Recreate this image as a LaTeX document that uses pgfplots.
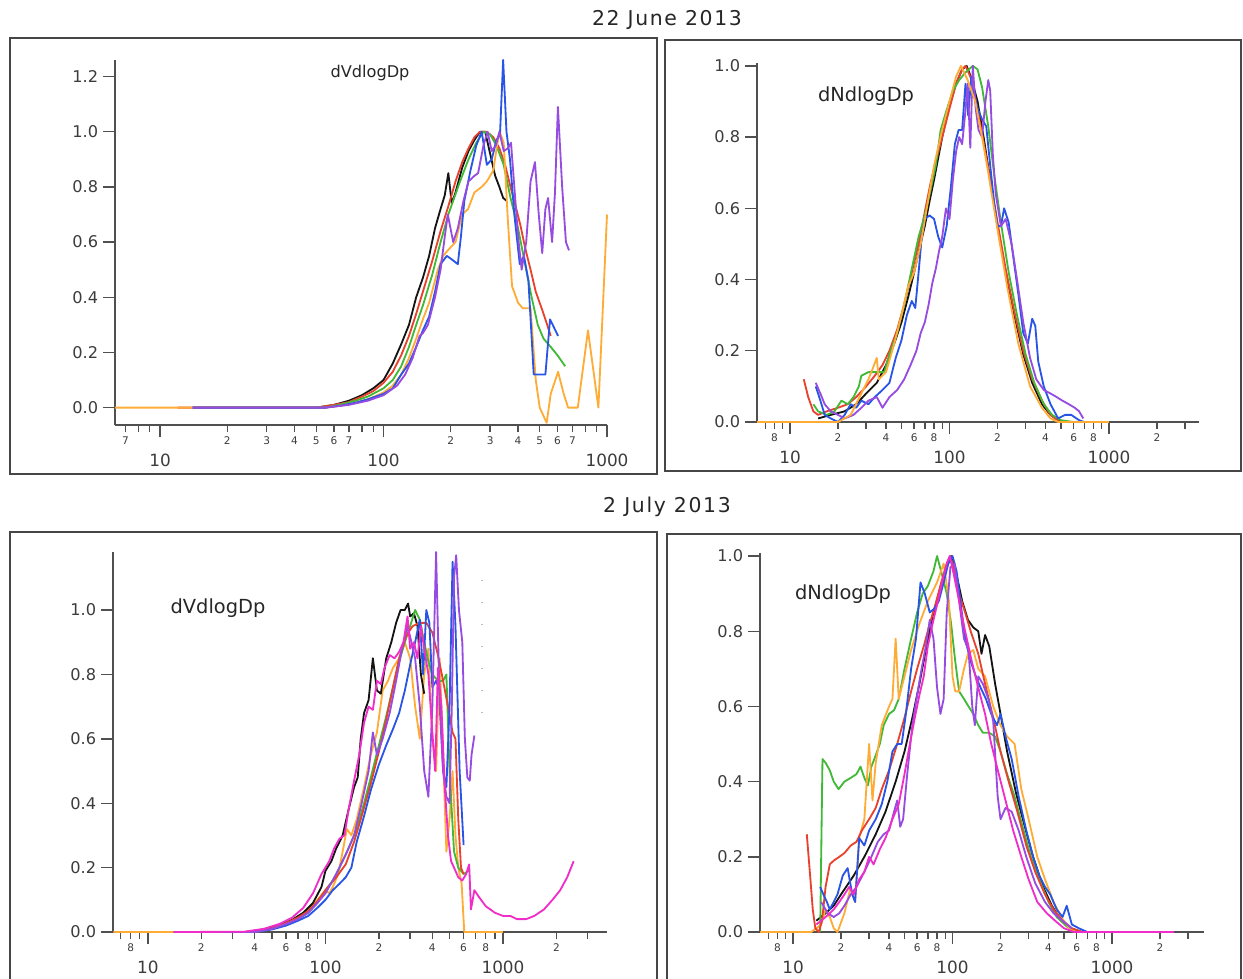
\documentclass[border=0pt]{standalone}
\usepackage{fontspec}
\setmainfont{DejaVu Sans}
\newfontfamily\titlefont[LetterSpace=8]{DejaVu Sans}
\usepackage{pgfplots}
\pgfplotsset{compat=1.18}

\definecolor{cblack}{RGB}{20,20,20}
\definecolor{cred}{RGB}{232,65,45}
\definecolor{cgreen}{RGB}{65,185,55}
\definecolor{cblue}{RGB}{40,85,230}
\definecolor{cpurple}{RGB}{150,75,225}
\definecolor{corange}{RGB}{255,172,55}
\definecolor{cmag}{RGB}{240,45,200}
\definecolor{axisgray}{RGB}{80,80,80}
\definecolor{labelgray}{RGB}{60,60,60}
\definecolor{framegray}{RGB}{70,70,70}

\pgfplotsset{
  every axis/.append style={
    scale only axis, anchor=south west, clip=false,
    axis x line*=bottom, axis y line*=left,
    axis line style={draw=axisgray, line width=0.55mm, -},
    tick align=outside,
    major tick length=3mm, minor tick length=1.75mm,
    tick style={draw=axisgray, line width=0.35mm},
    xtick={10,100,1000}, xticklabels={10,100,1000},
    yticklabel style={font=\fontsize{11.5}{12}\selectfont, text=labelgray,
      /pgf/number format/fixed, /pgf/number format/fixed zerofill,
      /pgf/number format/precision=1, /pgf/number format/assume math mode=true},
    xticklabel style={font=\fontsize{12}{13}\selectfont, text=labelgray},
    xticklabel shift=3mm,
    extra x tick style={major tick length=1.75mm, xticklabel shift=0pt,
      xticklabel style={font=\fontsize{7.5}{8}\selectfont}},
  },
  every axis plot/.append style={line width=1.3pt, line join=round},
  minorsA/.style={
    minor xtick={7,8,9,20,30,40,50,60,70,80,90,200,300,400,500,600,700,800,900},
    extra x ticks={7,20,30,40,50,60,70,200,300,400,500,600,700},
    extra x tick labels={7,2,3,4,5,6,7,2,3,4,5,6,7},
  },
  minorsB/.style={
    minor xtick={7,8,9,20,30,40,50,60,70,80,90,200,300,400,500,600,700,800,900,2000,3000},
    extra x ticks={8,20,40,60,80,200,400,600,800,2000},
    extra x tick labels={8,2,4,6,8,2,4,6,8,2},
  },
}

\begin{document}
\begin{tikzpicture}[x=0.25mm,y=-0.25mm]
\useasboundingbox (0,0) rectangle (1243,978);

% frames and titles
\draw[framegray, line width=0.4mm] (10,38) rectangle (657,474);
\draw[framegray, line width=0.4mm] (665,40) rectangle (1241,471);
\draw[framegray, line width=0.4mm] (10,532) rectangle (657,990);
\draw[framegray, line width=0.4mm] (667,534) rectangle (1241,990);
\node[text=black!85, font=\titlefont\fontsize{14.5}{15}\selectfont] at (667,20) {22 June 2013};
\node[text=black!85, font=\titlefont\fontsize{14.5}{15}\selectfont] at (667,507) {2 July 2013};

% ---------- 22 June, dVdlogDp ----------
\begin{semilogxaxis}[minorsA, at={(28.75mm,-106.25mm)}, width=123mm, height=91.25mm,
  xmin=6.29, xmax=1000, ymin=-0.063, ymax=1.26, ytick={0,0.2,0.4,0.6,0.8,1.0,1.2}]
\addplot[cblack] coordinates {(14,0)(50,0)(60,0.01)(70,0.025)(80,0.045)(90,0.07)(100,0.1)(110,0.16)(120,0.23)(130,0.3)(140,0.4)(150,0.47)(160,0.55)(170,0.65)(180,0.72)(188,0.77)(195,0.85)(202,0.74)(210,0.78)(225,0.87)(240,0.93)(255,0.97)(270,1.0)(285,1.0)(300,0.92)(316,0.84)(330,0.8)(343,0.76)(355,0.75)};
\addplot[cred] coordinates {(12,0)(50,0)(60,0.01)(70,0.02)(80,0.04)(90,0.06)(100,0.09)(110,0.13)(120,0.19)(130,0.26)(140,0.34)(150,0.42)(165,0.53)(180,0.64)(195,0.73)(210,0.82)(225,0.89)(240,0.94)(255,0.98)(270,1.0)(290,1.0)(310,0.98)(330,0.94)(350,0.88)(370,0.8)(390,0.73)(410,0.66)(430,0.58)(455,0.5)(480,0.42)(510,0.36)(540,0.3)(560,0.26)};
\addplot[cgreen] coordinates {(14,0)(55,0)(65,0.012)(75,0.025)(85,0.04)(100,0.07)(110,0.1)(120,0.15)(130,0.22)(140,0.3)(150,0.37)(165,0.48)(180,0.6)(195,0.7)(205,0.75)(220,0.82)(240,0.9)(260,0.96)(280,1.0)(300,0.99)(320,0.95)(345,0.88)(370,0.76)(400,0.65)(430,0.52)(460,0.4)(490,0.3)(520,0.25)(560,0.22)(600,0.19)(650,0.15)};
\addplot[corange] coordinates {(6.3,0)(55,0)(65,0.008)(75,0.018)(85,0.03)(100,0.055)(110,0.08)(120,0.12)(130,0.18)(140,0.25)(150,0.32)(160,0.38)(175,0.5)(185,0.55)(194,0.57)(210,0.6)(225,0.7)(239,0.72)(255,0.78)(275,0.8)(290,0.82)(310,0.86)(322,0.95)(331,1.0)(345,0.96)(360,0.68)(376,0.44)(400,0.38)(420,0.36)(455,0.36)(480,0.1)(500,0.0)(537,-0.055)(560,0.05)(604,0.13)(640,0.05)(670,0.0)(740,0.0)(822,0.28)(915,0.0)(1000,0.7)};
\addplot[cblue] coordinates {(14,0)(55,0)(65,0.008)(75,0.018)(85,0.03)(100,0.05)(110,0.07)(120,0.12)(130,0.16)(140,0.22)(150,0.28)(160,0.33)(170,0.42)(180,0.52)(192,0.55)(200,0.54)(215,0.52)(222,0.62)(230,0.75)(245,0.86)(260,0.95)(275,1.0)(290,0.88)(305,0.9)(320,0.97)(332,0.99)(343,1.26)(355,1.0)(368,0.9)(385,0.7)(407,0.52)(425,0.55)(445,0.46)(470,0.12)(500,0.12)(530,0.12)(556,0.32)(604,0.26)};
\addplot[cpurple] coordinates {(14,0)(55,0)(70,0.01)(85,0.025)(100,0.045)(115,0.08)(125,0.12)(135,0.18)(145,0.26)(150,0.27)(158,0.3)(170,0.4)(180,0.5)(188,0.62)(194,0.7)(205,0.6)(215,0.65)(228,0.75)(240,0.82)(255,0.84)(265,0.85)(280,0.95)(292,1.0)(305,0.93)(318,0.95)(330,1.0)(345,0.93)(360,0.94)(372,0.96)(385,0.8)(400,0.62)(415,0.5)(435,0.6)(455,0.82)(476,0.89)(495,0.7)(513,0.56)(530,0.72)(545,0.76)(568,0.6)(585,0.78)(603,1.09)(630,0.8)(655,0.6)(676,0.57)};
\end{semilogxaxis}

% ---------- 22 June, dNdlogDp ----------
\begin{semilogxaxis}[minorsB, at={(189.25mm,-105.5mm)}, width=110.5mm, height=89.75mm,
  xmin=6.21, xmax=3670, ymin=0, ymax=1.008, ytick={0,0.2,0.4,0.6,0.8,1.0}]
\addplot[cblack] coordinates {(15,0.01)(18,0.02)(22,0.03)(26,0.05)(30,0.08)(35,0.11)(40,0.16)(45,0.22)(50,0.28)(55,0.35)(60,0.42)(65,0.49)(70,0.55)(75,0.62)(80,0.68)(90,0.8)(100,0.89)(110,0.95)(120,0.99)(128,1.0)(136,0.97)(150,0.9)(165,0.79)(180,0.68)(200,0.55)(225,0.42)(255,0.3)(290,0.19)(330,0.11)(380,0.05)(430,0.02)(500,0)};
\addplot[cred] coordinates {(12.2,0.12)(13,0.07)(14,0.03)(15,0.02)(17,0.03)(20,0.04)(23,0.05)(26,0.07)(30,0.1)(34,0.13)(38,0.16)(42,0.2)(47,0.26)(52,0.33)(58,0.42)(64,0.5)(70,0.59)(76,0.67)(82,0.73)(90,0.8)(100,0.88)(110,0.95)(120,0.99)(126,1.0)(135,0.97)(145,0.91)(160,0.81)(180,0.68)(200,0.56)(225,0.43)(255,0.31)(290,0.2)(330,0.12)(380,0.06)(430,0.02)(490,0.0)};
\addplot[cgreen] coordinates {(14,0.05)(15,0.03)(17,0.02)(19,0.03)(21,0.06)(23,0.05)(25,0.07)(27,0.1)(28,0.13)(31,0.14)(35,0.14)(39,0.14)(42,0.19)(47,0.25)(52,0.33)(58,0.43)(64,0.52)(70,0.58)(76,0.65)(82,0.72)(88,0.82)(95,0.87)(105,0.93)(115,0.96)(125,0.98)(140,1.0)(150,0.99)(160,0.94)(175,0.83)(190,0.7)(210,0.56)(235,0.42)(265,0.3)(300,0.19)(340,0.11)(390,0.05)(440,0.02)(500,0.005)(600,0)};
\addplot[cblue] coordinates {(14.5,0.1)(15.5,0.06)(16.5,0.02)(18,0.01)(20,0.0)(22,0.02)(24,0.05)(26,0.04)(28,0.06)(31,0.05)(34,0.07)(38,0.09)(42,0.11)(46,0.18)(50,0.23)(54,0.3)(58,0.34)(61,0.32)(64,0.42)(67,0.52)(70,0.57)(75,0.58)(80,0.57)(85,0.52)(90,0.49)(96,0.55)(102,0.66)(108,0.78)(114,0.82)(120,0.82)(126,0.95)(131,0.86)(137,0.97)(143,0.92)(150,0.88)(160,0.85)(170,0.83)(180,0.72)(190,0.62)(200,0.55)(210,0.55)(220,0.6)(235,0.56)(250,0.47)(270,0.36)(290,0.25)(310,0.22)(330,0.29)(345,0.27)(360,0.17)(390,0.1)(430,0.05)(480,0.01)(530,0.02)(580,0.02)(650,0.005)(700,0)};
\addplot[cpurple] coordinates {(14.5,0.11)(15.5,0.08)(16.5,0.05)(18,0.03)(20,0.02)(22,0.01)(25,0.02)(28,0.04)(31,0.06)(35,0.07)(38,0.04)(42,0.07)(47,0.09)(52,0.12)(57,0.16)(62,0.2)(66,0.25)(70,0.28)(74,0.33)(78,0.39)(82,0.43)(86,0.48)(90,0.52)(95,0.6)(100,0.57)(105,0.68)(110,0.76)(115,0.8)(120,0.78)(125,0.86)(130,0.95)(135,0.77)(140,1.0)(146,0.88)(152,0.82)(160,0.8)(168,0.9)(175,0.96)(180,0.93)(187,0.75)(195,0.64)(210,0.55)(225,0.57)(245,0.5)(265,0.4)(290,0.28)(320,0.18)(350,0.12)(390,0.09)(430,0.08)(470,0.07)(510,0.06)(560,0.05)(610,0.04)(650,0.03)(690,0.01)};
\addplot[corange] coordinates {(6.21,0)(15,0)(20,0)(24,0.02)(28,0.08)(31,0.12)(33,0.15)(35,0.18)(36,0.12)(40,0.14)(45,0.22)(50,0.3)(55,0.38)(60,0.42)(66,0.5)(72,0.6)(80,0.72)(90,0.82)(100,0.9)(110,0.97)(118,1.0)(130,0.96)(145,0.9)(160,0.8)(175,0.7)(200,0.54)(230,0.38)(270,0.22)(320,0.1)(380,0.04)(430,0.01)(480,0)(1000,0)};
\end{semilogxaxis}

% ---------- 2 July, dVdlogDp ----------
\begin{semilogxaxis}[minorsB, at={(28.25mm,-233mm)}, width=123.5mm, height=95mm,
  xmin=6.36, xmax=3855, ymin=0, ymax=1.18, ytick={0,0.2,0.4,0.6,0.8,1.0}]
\addplot[gray!50, line width=1pt, dash pattern=on 0.6pt off 5.3mm] coordinates {(760,0.68)(760,1.13)};
\addplot[corange] coordinates {(6.4,0)(40,0)(50,0.01)(60,0.025)(70,0.045)(80,0.07)(90,0.1)(100,0.13)(105,0.12)(110,0.14)(118,0.18)(125,0.25)(132,0.32)(140,0.3)(150,0.35)(165,0.45)(180,0.55)(195,0.62)(210,0.75)(225,0.78)(240,0.82)(260,0.85)(280,0.9)(300,0.85)(320,0.7)(340,0.6)(360,0.8)(380,0.88)(400,0.6)(420,0.5)(440,0.85)(460,0.55)(480,0.25)(500,0.35)(520,0.5)(540,0.3)(560,0.2)(585,0.15)(605,0.0)(1000,0.0)};
\addplot[cblack] coordinates {(14,0)(35,0)(45,0.008)(55,0.02)(65,0.038)(75,0.06)(85,0.09)(95,0.14)(100,0.19)(108,0.22)(115,0.26)(125,0.3)(135,0.38)(145,0.45)(152,0.48)(158,0.6)(165,0.68)(175,0.72)(185,0.85)(195,0.75)(205,0.74)(220,0.85)(235,0.9)(250,0.96)(265,1.0)(280,1.0)(292,1.02)(300,0.98)(315,0.99)(330,0.95)(345,0.8)(360,0.74)};
\addplot[cgreen] coordinates {(14,0)(40,0)(50,0.01)(60,0.025)(70,0.04)(80,0.06)(90,0.09)(100,0.13)(110,0.16)(120,0.2)(135,0.26)(150,0.32)(165,0.4)(180,0.48)(200,0.58)(220,0.67)(240,0.76)(260,0.84)(280,0.9)(300,0.95)(320,1.0)(340,0.97)(360,0.9)(380,0.84)(400,0.8)(430,0.78)(460,0.78)(480,0.8)(500,0.5)(530,0.25)(560,0.2)(600,0.18)(640,0.19)};
\addplot[cred] coordinates {(14,0)(40,0)(50,0.012)(60,0.028)(70,0.045)(80,0.065)(90,0.095)(100,0.13)(115,0.17)(130,0.21)(145,0.28)(160,0.36)(180,0.46)(200,0.56)(220,0.66)(240,0.76)(260,0.85)(285,0.92)(310,0.95)(340,0.96)(370,0.96)(400,0.93)(430,0.86)(460,0.78)(490,0.7)(520,0.62)(540,0.6)(560,0.35)(580,0.2)(600,0.18)};
\addplot[cblue] coordinates {(14,0)(40,0)(50,0.008)(60,0.02)(70,0.035)(80,0.05)(90,0.075)(100,0.1)(110,0.13)(120,0.15)(130,0.17)(140,0.2)(150,0.28)(165,0.36)(180,0.44)(200,0.52)(220,0.58)(240,0.63)(260,0.68)(280,0.75)(300,0.83)(320,0.9)(340,0.97)(355,0.8)(370,1.0)(385,0.96)(400,0.76)(420,0.78)(440,0.75)(460,0.5)(480,0.45)(500,0.7)(520,1.15)(540,0.95)(570,0.5)(600,0.27)};
\addplot[cpurple] coordinates {(14,0)(40,0)(50,0.01)(60,0.025)(70,0.04)(80,0.06)(90,0.09)(100,0.12)(115,0.18)(130,0.24)(145,0.3)(160,0.4)(175,0.5)(185,0.62)(195,0.55)(210,0.6)(230,0.68)(250,0.78)(270,0.88)(290,0.95)(305,0.9)(320,0.85)(340,0.7)(360,0.5)(380,0.42)(400,0.7)(420,1.18)(440,0.7)(460,0.5)(480,0.42)(500,0.4)(515,0.7)(530,1.1)(545,1.17)(565,1.0)(590,0.9)(610,0.6)(630,0.48)(650,0.47)(665,0.55)(690,0.61)};
\addplot[cmag] coordinates {(14,0)(35,0.001)(45,0.01)(55,0.025)(65,0.045)(75,0.075)(85,0.12)(95,0.18)(105,0.22)(112,0.26)(120,0.29)(128,0.3)(135,0.38)(145,0.47)(155,0.55)(165,0.65)(175,0.7)(185,0.69)(195,0.78)(205,0.77)(215,0.82)(230,0.86)(245,0.85)(260,0.87)(275,0.9)(290,0.98)(300,0.88)(315,0.9)(330,0.85)(345,0.95)(360,0.88)(380,0.8)(400,0.62)(415,0.5)(430,0.82)(450,0.7)(470,0.45)(490,0.3)(510,0.22)(530,0.2)(560,0.17)(590,0.16)(620,0.18)(645,0.21)(660,0.07)(690,0.13)(730,0.11)(800,0.08)(900,0.06)(1000,0.05)(1100,0.05)(1200,0.04)(1350,0.04)(1500,0.05)(1700,0.07)(1900,0.1)(2100,0.13)(2300,0.17)(2500,0.22)};
\end{semilogxaxis}

% ---------- 2 July, dNdlogDp ----------
\begin{semilogxaxis}[minorsB, at={(190mm,-233mm)}, width=111mm, height=94.75mm,
  xmin=6.21, xmax=3776, ymin=0, ymax=1.008, ytick={0,0.2,0.4,0.6,0.8,1.0}]
\addplot[cblack] coordinates {(14,0.03)(16,0.05)(18,0.07)(20,0.1)(24,0.15)(28,0.2)(33,0.26)(38,0.32)(44,0.4)(50,0.48)(56,0.57)(62,0.66)(68,0.75)(75,0.84)(82,0.9)(90,0.96)(98,1.0)(106,0.95)(115,0.88)(125,0.83)(135,0.81)(145,0.8)(152,0.74)(160,0.79)(170,0.76)(185,0.66)(200,0.58)(220,0.48)(250,0.37)(280,0.29)(320,0.2)(370,0.12)(420,0.07)(480,0.03)(550,0.01)(650,0.0)};
\addplot[cgreen] coordinates {(14.8,0)(15.3,0.46)(16,0.45)(17,0.43)(18,0.4)(19.3,0.38)(21,0.4)(23,0.41)(25,0.42)(26.5,0.44)(28,0.41)(29.5,0.39)(31,0.44)(33,0.47)(35,0.5)(37,0.55)(40,0.58)(43,0.59)(46,0.62)(50,0.7)(55,0.78)(60,0.85)(65,0.9)(70,0.92)(76,0.96)(80,1.0)(86,0.95)(92,0.9)(98,0.82)(104,0.72)(110,0.64)(118,0.62)(126,0.6)(135,0.58)(145,0.55)(155,0.53)(170,0.53)(185,0.52)(200,0.48)(220,0.42)(245,0.36)(275,0.28)(310,0.2)(350,0.14)(400,0.08)(450,0.04)(520,0.015)(600,0)};
\addplot[corange] coordinates {(6.21,0)(13,0)(14,0.01)(15,0.02)(16,0.06)(17,0.04)(18,0.01)(19,0)(21,0.05)(23,0.12)(24.5,0.08)(26,0.25)(28,0.3)(30,0.5)(31.5,0.35)(33,0.45)(36,0.55)(40,0.6)(42,0.62)(44,0.78)(46,0.62)(50,0.68)(55,0.75)(62,0.82)(70,0.88)(80,0.93)(88,0.98)(95,0.88)(100,0.68)(104,0.64)(110,0.64)(118,0.7)(125,0.74)(135,0.75)(145,0.7)(160,0.68)(180,0.6)(200,0.55)(220,0.52)(245,0.5)(270,0.38)(300,0.3)(340,0.2)(380,0.14)(430,0.08)(480,0.04)(540,0.01)(600,0)(1000,0)};
\addplot[cred] coordinates {(12.2,0.26)(12.8,0.15)(13.3,0.06)(13.8,0.01)(14.5,0)(15.2,0.03)(16,0.12)(17,0.18)(18,0.19)(19.5,0.2)(21,0.21)(23,0.23)(25,0.24)(27,0.27)(30,0.3)(33,0.33)(36,0.38)(40,0.43)(45,0.5)(50,0.57)(55,0.64)(60,0.7)(66,0.76)(72,0.82)(78,0.87)(85,0.93)(92,0.98)(97,1.0)(103,0.96)(110,0.9)(120,0.85)(130,0.8)(145,0.74)(160,0.66)(180,0.57)(200,0.48)(225,0.4)(255,0.32)(290,0.23)(330,0.16)(380,0.1)(430,0.06)(490,0.03)(560,0.01)(650,0)};
\addplot[cblue] coordinates {(14.8,0.12)(15.5,0.1)(16.3,0.08)(17,0.06)(18,0.08)(19,0.1)(20.5,0.15)(22,0.17)(23.5,0.1)(24.5,0.08)(26,0.25)(28,0.23)(30,0.27)(33,0.3)(36,0.34)(39,0.4)(42,0.48)(45,0.5)(48,0.5)(51,0.58)(55,0.7)(59,0.78)(63,0.93)(67,0.9)(72,0.85)(77,0.86)(82,0.88)(88,0.93)(94,0.98)(100,1.0)(106,0.96)(112,0.88)(120,0.78)(130,0.72)(140,0.68)(150,0.65)(162,0.62)(175,0.58)(190,0.55)(200,0.58)(215,0.52)(235,0.46)(260,0.36)(290,0.27)(320,0.2)(350,0.15)(380,0.12)(410,0.1)(450,0.06)(490,0.04)(520,0.07)(560,0.02)(620,0.01)(700,0)};
\addplot[cpurple] coordinates {(15,0.08)(16.5,0.05)(18,0.04)(19.5,0.05)(21,0.07)(23,0.1)(25,0.12)(28,0.16)(31,0.2)(34,0.24)(37,0.26)(40,0.27)(43,0.32)(45,0.35)(47,0.28)(49,0.3)(52,0.42)(56,0.55)(60,0.63)(64,0.7)(68,0.76)(72,0.83)(76,0.78)(80,0.65)(84,0.58)(88,0.62)(92,0.85)(97,0.97)(103,0.98)(110,0.88)(118,0.78)(126,0.75)(133,0.6)(138,0.55)(145,0.68)(155,0.66)(168,0.62)(180,0.56)(192,0.36)(200,0.3)(215,0.33)(235,0.32)(260,0.27)(290,0.2)(330,0.13)(380,0.08)(430,0.05)(490,0.03)(560,0.01)};
\addplot[cmag] coordinates {(14,0.02)(15,0.03)(16,0.04)(17,0.05)(18,0.06)(19.5,0.08)(21,0.1)(22.5,0.12)(24,0.1)(26,0.14)(28,0.16)(30,0.2)(32,0.18)(35,0.22)(38,0.25)(42,0.3)(46,0.34)(50,0.42)(54,0.5)(58,0.57)(62,0.63)(66,0.68)(70,0.76)(75,0.82)(80,0.87)(86,0.93)(92,0.98)(96,1.0)(102,0.95)(110,0.88)(120,0.8)(132,0.72)(145,0.65)(160,0.58)(175,0.5)(195,0.42)(215,0.35)(240,0.27)(270,0.2)(300,0.14)(340,0.08)(390,0.05)(440,0.03)(500,0.01)(580,0)(700,0)(2450,0)};
\end{semilogxaxis}

% panel labels
\node[font=\fontsize{11.5}{12}\selectfont, text=black!85] at (370,73) {dVdlogDp};
\node[font=\fontsize{13.8}{14}\selectfont, text=black!85] at (866,96) {dNdlogDp};
\node[font=\fontsize{13.8}{14}\selectfont, text=black!85] at (218,608) {dVdlogDp};
\node[font=\fontsize{13.8}{14}\selectfont, text=black!85] at (843,594) {dNdlogDp};
\end{tikzpicture}
\end{document}
